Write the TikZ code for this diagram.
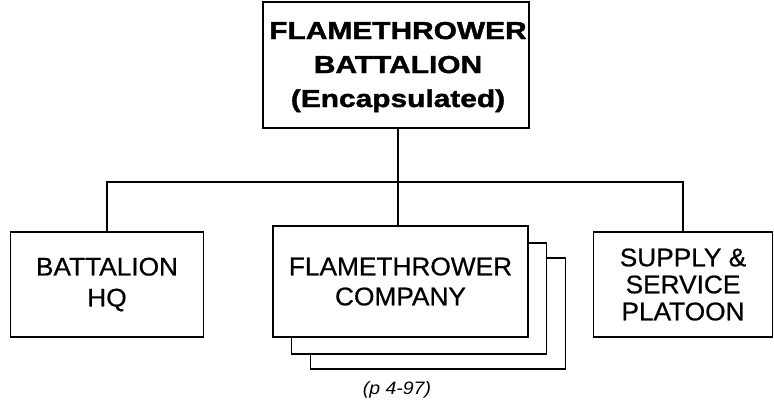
\documentclass[tikz,border=0pt]{standalone}
\usepackage{fontspec}
\setmainfont{Liberation Sans}
\newfontfamily\topfont[FakeStretch=1.22,FakeBold=1.6]{Liberation Sans}
\newfontfamily\boxfont[FakeStretch=1.03,FakeBold=0.6]{Liberation Sans}
\newfontfamily\notefont[FakeStretch=1.08]{Liberation Sans}
\begin{document}
\begin{tikzpicture}[x=1pt,y=-1pt,
  unitbox/.style={draw=black, line width=1.6pt, fill=white, rectangle, inner sep=0pt, align=center},
  link/.style={draw=black, line width=1.6pt}]
\useasboundingbox (0,0) rectangle (774,402);
\fill[white] (0,0) rectangle (774,402);
% top
\node[unitbox, minimum width=266pt, minimum height=126pt] (top) at (396,65) {};
\node[font=\topfont\bfseries\fontsize{24.5}{34}\selectfont, align=center, inner sep=0pt] (toptext) at (398,67)
  {FLAMETHROWER\\BATTALION\\(Encapsulated)};
% left
\node[unitbox, minimum width=193pt, minimum height=105pt,
  font=\boxfont\fontsize{25.5}{31}\selectfont] (hq) at (107,284.5)
  {BATTALION\\HQ};
% middle stack
\node[unitbox, minimum width=255pt, minimum height=111pt] (fc3) at (438,313.5) {};
\node[unitbox, minimum width=255pt, minimum height=111pt] (fc2) at (419,298.5) {};
\node[unitbox, minimum width=255pt, minimum height=111pt,
  font=\boxfont\fontsize{25.5}{30}\selectfont] (fc1) at (400.5,281.5)
  {FLAMETHROWER\\COMPANY};
% right
\node[unitbox, minimum width=179pt, minimum height=105pt,
  font=\boxfont\fontsize{25.5}{27}\selectfont] (ssp) at (683,284.5)
  {SUPPLY \&\\SERVICE\\PLATOON};
% note
\node[font=\notefont\itshape\fontsize{18}{18}\selectfont, inner sep=0pt] (note) at (397,390) {(p 4-97)};
% connectors
\coordinate (bus) at (398,182);
\draw[link] (top.south -| bus) -- (fc1.north -| bus);
\draw[link] (hq.north) |- (bus) -| (ssp.north);
\end{tikzpicture}
\end{document}
